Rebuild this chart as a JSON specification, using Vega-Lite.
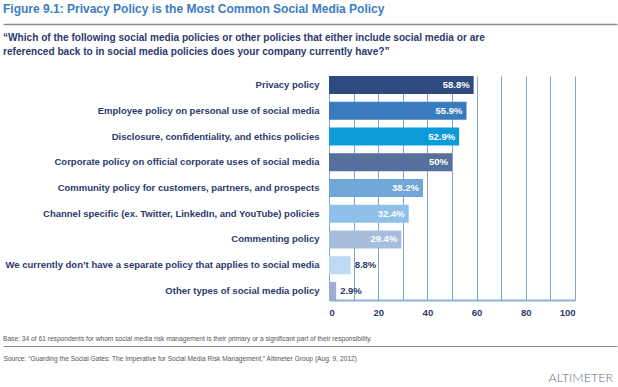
{
  "$schema": "https://vega.github.io/schema/vega-lite/v6.json",
  "padding": {"left": 3, "top": 3, "right": 1, "bottom": 0},
  "background": "white",
  "config": {
    "view": {"stroke": null},
    "font": "Liberation Sans, Arial, sans-serif"
  },
  "spacing": 8,
  "vconcat": [
    {
      "width": 614,
      "height": 1,
      "title": {
        "text": "Figure 9.1: Privacy Policy is the Most Common Social Media Policy",
        "anchor": "start",
        "fontSize": 12,
        "fontWeight": "bold",
        "color": "#3b7dc1",
        "offset": 7
      },
      "data": {"values": [{}]},
      "mark": {"type": "point", "opacity": 0, "size": 0},
      "encoding": {
        "x": {
          "datum": 0,
          "type": "quantitative",
          "scale": {"domain": [0, 1]},
          "axis": {"orient": "bottom", "title": null, "labels": false, "ticks": false, "grid": false, "domain": true, "domainColor": "#8c8c8c", "domainWidth": 1.5}
        }
      }
    },
    {
      "spacing": 19,
      "vconcat": [
        {
          "width": 572,
          "height": 224,
          "title": {
            "text": [
              "“Which of the following social media policies or other policies that either include social media or are",
              "referenced back to in social media policies does your company currently have?”"
            ],
            "anchor": "start",
            "frame": "group",
            "fontSize": 10.1,
            "fontWeight": "bold",
            "color": "#2b3a6e",
            "lineHeight": 14,
            "offset": 19
          },
          "data": {
            "values": [
              {"policy": "Privacy policy", "share": 58.8},
              {"policy": "Employee policy on personal use of social media", "share": 55.9},
              {"policy": "Disclosure, confidentiality, and ethics policies", "share": 52.9},
              {"policy": "Corporate policy on official corporate uses of social media", "share": 50},
              {"policy": "Community policy for customers, partners, and prospects", "share": 38.2},
              {"policy": "Channel specific (ex. Twitter, LinkedIn, and YouTube) policies", "share": 32.4},
              {"policy": "Commenting policy", "share": 29.4},
              {"policy": "We currently don’t have a separate policy that applies to social media", "share": 8.8},
              {"policy": "Other types of social media policy", "share": 2.9}
            ]
          },
          "transform": [
            {"calculate": "format(datum.share, '.1~f') + '%'", "as": "label"}
          ],
          "encoding": {
            "y": {
              "field": "policy",
              "type": "nominal",
              "sort": null,
              "scale": {"paddingInner": 0.3, "paddingOuter": 0},
              "axis": {
                "title": null,
                "offset": -326,
                "domain": false,
                "ticks": false,
                "grid": false,
                "labelFontSize": 9.5,
                "labelFontWeight": "bold",
                "labelColor": "#2b3a6e",
                "labelPadding": 10,
                "labelLimit": 400
              }
            },
            "x": {
              "field": "share",
              "type": "quantitative",
              "scale": {"domain": [0, 100], "range": [326, 572]},
              "axis": {
                "title": null,
                "values": [0, 10, 20, 30, 40, 50, 60, 70, 80, 90, 100],
                "labelExpr": "datum.value % 20 === 0 ? datum.label : ''",
                "grid": true,
                "gridColor": "#7ea6d2",
                "gridWidth": 1,
                "ticks": false,
                "domain": true,
                "domainColor": "#8fb0d6",
                "domainWidth": 2,
                "labelFontSize": 9.5,
                "labelFontWeight": "bold",
                "labelColor": "#2b3a6e",
                "labelPadding": 7
              }
            }
          },
          "layer": [
            {
              "mark": {"type": "bar"},
              "encoding": {
                "color": {
                  "field": "policy",
                  "type": "nominal",
                  "legend": null,
                  "scale": {
                    "domain": [
                      "Privacy policy",
                      "Employee policy on personal use of social media",
                      "Disclosure, confidentiality, and ethics policies",
                      "Corporate policy on official corporate uses of social media",
                      "Community policy for customers, partners, and prospects",
                      "Channel specific (ex. Twitter, LinkedIn, and YouTube) policies",
                      "Commenting policy",
                      "We currently don’t have a separate policy that applies to social media",
                      "Other types of social media policy"
                    ],
                    "range": ["#2e4a7f", "#3a7abf", "#0b9bd9", "#566f9c", "#70a6d8", "#8fc0ea", "#a6bedc", "#bddaf3", "#9eacd5"]
                  }
                }
              }
            },
            {
              "transform": [{"filter": "datum.share >= 20"}],
              "mark": {"type": "text", "align": "right", "dx": -4, "color": "white", "fontWeight": "bold", "fontSize": 9.5},
              "encoding": {"text": {"field": "label"}}
            },
            {
              "transform": [{"filter": "datum.share < 20"}],
              "mark": {"type": "text", "align": "left", "dx": 4, "color": "#2b3a6e", "fontWeight": "bold", "fontSize": 9.5},
              "encoding": {"text": {"field": "label"}}
            }
          ]
        },
        {
          "spacing": 9,
          "vconcat": [
            {
              "width": 614,
              "height": 1,
              "title": {
                "text": "Base: 34 of 61 respondents for whom social media risk management is their primary or a significant part of their responsibility.",
                "anchor": "start",
                "fontSize": 6.65,
                "fontWeight": "normal",
                "color": "#555555",
                "offset": 2
              },
              "data": {"values": [{}]},
              "mark": {"type": "point", "opacity": 0, "size": 0},
              "encoding": {
                "x": {
                  "datum": 0,
                  "type": "quantitative",
                  "scale": {"domain": [0, 1]},
                  "axis": {
                    "orient": "bottom",
                    "title": "Source: “Guarding the Social Gates: The Imperative for Social Media Risk Management,” Altimeter Group (Aug. 9, 2012)",
                    "titleAnchor": "start",
                    "titleFontSize": 6.65,
                    "titleFontWeight": "normal",
                    "titleColor": "#555555",
                    "titlePadding": 9,
                    "labels": false,
                    "ticks": false,
                    "grid": false,
                    "domain": true,
                    "domainColor": "#8c8c8c",
                    "domainWidth": 1
                  }
                }
              }
            },
            {
              "width": 610,
              "height": 1,
              "title": {
                "text": "ALTIMETER",
                "anchor": "end",
                "fontSize": 12.5,
                "fontWeight": 300,
                "font": "Lato",
                "color": "#5d6c84",
                "offset": 0
              },
              "data": {"values": [{}]},
              "mark": {"type": "point", "opacity": 0, "size": 0},
              "encoding": {
                "x": {"datum": 0, "type": "quantitative", "scale": {"domain": [0, 1]}, "axis": null}
              }
            }
          ]
        }
      ]
    }
  ]
}
